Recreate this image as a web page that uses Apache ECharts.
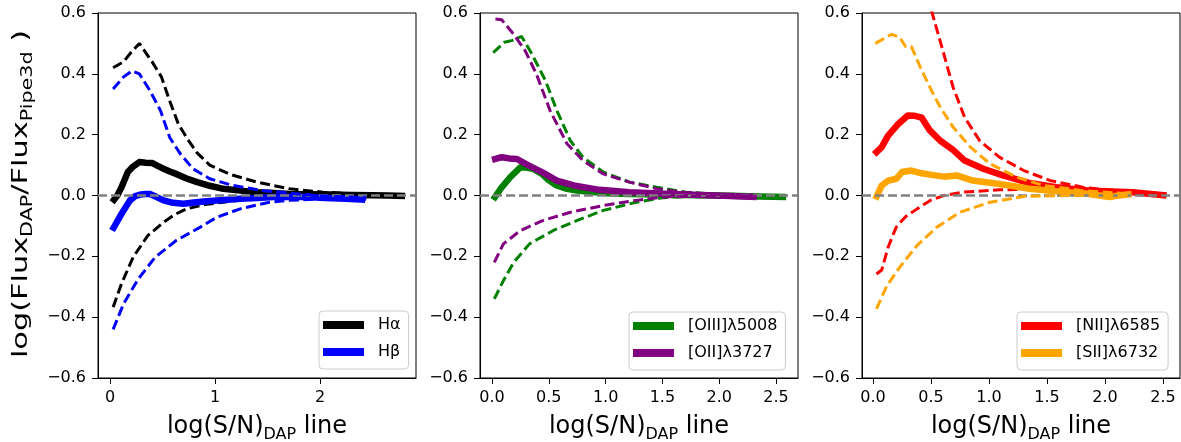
<!DOCTYPE html>
<html>
<head>
<meta charset="utf-8">
<script src="https://cdn.jsdelivr.net/npm/echarts@6/dist/echarts.min.js"></script>
<style>
html,body{margin:0;padding:0;background:#fff;}
#chart{width:1181px;height:442px;}
</style>
</head>
<body>
<div id="chart"></div>
<script>
// ---------- DATA ----------
// Panel 1: H-alpha / H-beta  ([log(S/N), log ratio])
const haSolid = [[0.02,-0.022],[0.07,0.0],[0.11,0.027],[0.17,0.077],[0.22,0.095],[0.28,0.11],[0.34,0.108],[0.40,0.107],[0.45,0.098],[0.51,0.088],[0.57,0.079],[0.63,0.071],[0.73,0.056],[0.83,0.044],[0.95,0.032],[1.08,0.022],[1.24,0.016],[1.40,0.011],[1.56,0.008],[1.71,0.005],[1.90,0.004],[2.10,0.003],[2.30,0.002],[2.50,0.001],[2.65,0.0],[2.81,-0.002]];
const haUpper = [[0.03,0.42],[0.13,0.44],[0.20,0.47],[0.28,0.50],[0.34,0.47],[0.40,0.44],[0.49,0.39],[0.57,0.31],[0.65,0.236],[0.73,0.19],[0.83,0.14],[0.95,0.10],[1.14,0.07],[1.40,0.044],[1.71,0.022],[2.03,0.011],[2.30,0.006],[2.55,0.003],[2.80,0.001]];
const haLower = [[0.03,-0.367],[0.11,-0.29],[0.22,-0.203],[0.36,-0.132],[0.51,-0.088],[0.62,-0.062],[0.73,-0.044],[0.90,-0.03],[1.08,-0.022],[1.30,-0.013],[1.60,-0.008],[2.00,-0.005],[2.40,-0.003],[2.80,-0.002]];
const hbSolid = [[0.02,-0.115],[0.10,-0.066],[0.19,-0.016],[0.24,-0.002],[0.29,0.003],[0.34,0.005],[0.38,0.005],[0.45,-0.006],[0.51,-0.016],[0.60,-0.024],[0.70,-0.027],[0.80,-0.023],[0.92,-0.019],[1.08,-0.015],[1.24,-0.011],[1.40,-0.008],[1.56,-0.005],[1.72,-0.004],[1.87,-0.005],[2.05,-0.008],[2.25,-0.011],[2.43,-0.014]];
const hbUpper = [[0.03,0.35],[0.13,0.39],[0.21,0.41],[0.28,0.40],[0.38,0.345],[0.48,0.28],[0.57,0.19],[0.67,0.137],[0.79,0.088],[0.95,0.055],[1.17,0.033],[1.46,0.016],[1.71,0.008],[1.95,0.0],[2.20,-0.004],[2.44,-0.006]];
const hbLower = [[0.03,-0.44],[0.13,-0.356],[0.27,-0.274],[0.43,-0.203],[0.63,-0.148],[0.86,-0.104],[1.02,-0.071],[1.24,-0.044],[1.52,-0.022],[1.71,-0.016],[1.95,-0.012],[2.20,-0.011],[2.44,-0.012]];

// Panel 2: [OIII]5008 / [OII]3727
const o3Solid = [[0.01,-0.014],[0.085,0.027],[0.16,0.06],[0.25,0.093],[0.30,0.092],[0.36,0.088],[0.44,0.071],[0.50,0.05],[0.57,0.033],[0.66,0.022],[0.75,0.016],[0.98,0.008],[1.20,0.005],[1.50,0.003],[1.80,0.001],[2.10,-0.001],[2.35,-0.003],[2.59,-0.005]];
const o3Upper = [[0.01,0.47],[0.11,0.504],[0.18,0.51],[0.26,0.523],[0.35,0.466],[0.47,0.378],[0.57,0.28],[0.69,0.18],[0.80,0.126],[0.98,0.077],[1.21,0.044],[1.45,0.027],[1.71,0.011],[2.00,0.004],[2.30,0.0],[2.59,-0.003]];
const o3Lower = [[0.02,-0.34],[0.10,-0.28],[0.19,-0.22],[0.33,-0.159],[0.54,-0.115],[0.75,-0.082],[0.98,-0.049],[1.27,-0.022],[1.51,-0.007],[1.80,-0.002],[2.20,0.0],[2.59,-0.003]];
const o2Solid = [[0.0,0.117],[0.085,0.126],[0.15,0.122],[0.22,0.12],[0.32,0.099],[0.44,0.077],[0.57,0.049],[0.72,0.033],[0.92,0.02],[1.21,0.011],[1.57,0.005],[1.90,0.001],[2.10,-0.002],[2.33,-0.005]];
const o2Upper = [[0.03,0.58],[0.085,0.578],[0.19,0.53],[0.29,0.477],[0.39,0.40],[0.51,0.28],[0.66,0.17],[0.80,0.115],[0.98,0.071],[1.21,0.044],[1.45,0.022],[1.70,0.01],[2.00,0.003],[2.33,-0.004]];
const o2Lower = [[0.02,-0.22],[0.10,-0.159],[0.25,-0.115],[0.45,-0.082],[0.69,-0.055],[0.98,-0.033],[1.27,-0.016],[1.51,-0.005],[1.80,-0.002],[2.10,-0.003],[2.33,-0.005]];

// Panel 3: [NII]6585 / [SII]6732
const n2Solid = [[0.01,0.135],[0.075,0.159],[0.13,0.197],[0.22,0.236],[0.30,0.263],[0.36,0.262],[0.42,0.256],[0.49,0.214],[0.58,0.18],[0.69,0.15],[0.79,0.115],[0.95,0.088],[1.12,0.066],[1.35,0.041],[1.58,0.027],[1.87,0.016],[2.24,0.011],[2.53,0.0]];
const n2Upper = [[0.03,1.1],[0.20,0.95],[0.35,0.78],[0.45,0.68],[0.51,0.6],[0.61,0.466],[0.69,0.356],[0.79,0.257],[0.92,0.18],[1.09,0.126],[1.30,0.082],[1.53,0.049],[1.81,0.027],[2.10,0.016],[2.53,0.005]];
const n2Lower = [[0.03,-0.258],[0.075,-0.245],[0.13,-0.17],[0.20,-0.104],[0.28,-0.07],[0.38,-0.044],[0.50,-0.015],[0.61,0.0],[0.78,0.011],[1.09,0.019],[1.38,0.02],[1.67,0.016],[2.00,0.01],[2.30,0.007],[2.53,0.004]];
const s2Solid = [[0.02,-0.013],[0.075,0.033],[0.13,0.049],[0.20,0.055],[0.25,0.077],[0.33,0.082],[0.42,0.073],[0.52,0.067],[0.61,0.062],[0.72,0.066],[0.86,0.049],[1.09,0.038],[1.35,0.022],[1.67,0.011],[1.85,0.006],[2.04,-0.005],[2.12,0.0],[2.23,0.005]];
const s2Upper = [[0.02,0.50],[0.09,0.515],[0.16,0.53],[0.23,0.52],[0.28,0.49],[0.33,0.49],[0.41,0.42],[0.49,0.356],[0.58,0.29],[0.69,0.225],[0.84,0.159],[1.01,0.104],[1.24,0.06],[1.47,0.033],[1.81,0.016],[2.22,0.005]];
const s2Lower = [[0.03,-0.373],[0.12,-0.296],[0.23,-0.236],[0.38,-0.164],[0.55,-0.104],[0.75,-0.055],[1.01,-0.022],[1.30,-0.003],[1.67,0.0],[2.00,0.0],[2.22,0.0]];

const legendNames = [['Hα','Hβ'],['[OIII]λ5008','[OII]λ3727'],['[NII]λ6585','[SII]λ6732']];
const xTicks1 = [0,1,2];
const xTicks23 = [0,0.5,1.0,1.5,2.0,2.5];
const yTicks = [-0.6,-0.4,-0.2,0.0,0.2,0.4,0.6];

// ---------- CHART ----------
const FONT = 'DejaVu Sans';
const chart = echarts.init(document.getElementById('chart'), null, {renderer:'canvas'});

const grids = [
  {left:98, top:13, width:318, height:365},
  {left:480, top:13, width:318, height:365},
  {left:862, top:13, width:318, height:365}
].map(g => Object.assign(g, {show:true, borderColor:'#000', borderWidth:1, backgroundColor:'transparent', containLabel:false, outerBoundsMode:'none'}));

const xRanges = [[-0.114,2.914],[-0.106,2.694],[-0.095,2.647]];
const richX = {
  m:{fontFamily:FONT, fontSize:24, color:'#000', lineHeight:32},
  s:{fontFamily:FONT, fontSize:16, color:'#000', lineHeight:15, verticalAlign:'bottom'}
};
const richY = {
  m:{fontFamily:FONT, fontSize:22, color:'#000', lineHeight:30},
  s:{fontFamily:FONT, fontSize:15, color:'#000', lineHeight:14, verticalAlign:'bottom'}
};
function minus(s){ return s.replace('-', '\u2212'); }

const xAxes = xRanges.map((r,i) => {
  const ticks = i === 0 ? xTicks1 : xTicks23;
  return {
    type:'value', gridIndex:i, min:r[0], max:r[1],
    name:'{m|log(S/N)}{s|DAP}{m| line}', nameLocation:'middle', nameGap:33,
    nameTextStyle:{rich:richX},
    axisLine:{show:true, onZero:false, lineStyle:{color:'#000', width:1}},
    axisTick:{show:true, length:6, customValues:ticks, lineStyle:{color:'#000'}},
    axisLabel:{show:true, customValues:ticks, margin:12, fontFamily:FONT, fontSize:16, color:'#000',
      formatter: v => i === 0 ? String(Math.round(v)) : minus(Number(v).toFixed(1))},
    splitLine:{show:false}
  };
});
const yAxes = [0,1,2].map(i => ({
  type:'value', gridIndex:i, min:-0.6, max:0.6, interval:0.2,
  axisLine:{show:true, onZero:false, lineStyle:{color:'#000', width:1}},
  axisTick:{show:true, length:6, lineStyle:{color:'#000'}},
  axisLabel:{show:true, margin:12, fontFamily:FONT, fontSize:16, color:'#000',
    formatter: v => { const t = Number(v).toFixed(1); return t === '-0.0' ? '0.0' : minus(t); }},
  splitLine:{show:false}
}));

function solid(name, data, color, idx, z){
  return {type:'line', name:name, data:data, xAxisIndex:idx, yAxisIndex:idx, showSymbol:false, symbol:'none',
    lineStyle:{color:color, width:6.5, cap:'butt', join:'round'}, itemStyle:{color:color}, color:color, z:z, animation:false, silent:true};
}
function dashed(name, data, color, idx, z){
  return {type:'line', name:name, data:data, xAxisIndex:idx, yAxisIndex:idx, showSymbol:false, symbol:'none',
    lineStyle:{color:color, width:3, type:[10,4.5], cap:'butt'}, itemStyle:{color:color}, color:color, z:z, animation:false, silent:true};
}
function zeroLine(idx){
  return {type:'line', name:'zero'+idx, data:[], xAxisIndex:idx, yAxisIndex:idx, z:1, animation:false, silent:true,
    markLine:{silent:true, symbol:['none','none'], label:{show:false}, animation:false,
      lineStyle:{color:'#808080', width:2.5, type:[9,4]}, data:[{yAxis:0}]}};
}

const series = [
  zeroLine(0), zeroLine(1), zeroLine(2),
  solid(legendNames[0][0], haSolid, '#000000', 0, 2),
  dashed('Hα upper', haUpper, '#000000', 0, 3),
  dashed('Hα lower', haLower, '#000000', 0, 3),
  solid(legendNames[0][1], hbSolid, '#0000ff', 0, 4),
  dashed('Hβ upper', hbUpper, '#0000ff', 0, 5),
  dashed('Hβ lower', hbLower, '#0000ff', 0, 5),

  solid(legendNames[1][0], o3Solid, '#008000', 1, 2),
  dashed('OIII upper', o3Upper, '#008000', 1, 3),
  dashed('OIII lower', o3Lower, '#008000', 1, 3),
  solid(legendNames[1][1], o2Solid, '#800080', 1, 4),
  dashed('OII upper', o2Upper, '#800080', 1, 5),
  dashed('OII lower', o2Lower, '#800080', 1, 5),

  solid(legendNames[2][0], n2Solid, '#ff0000', 2, 2),
  dashed('NII upper', n2Upper, '#ff0000', 2, 3),
  dashed('NII lower', n2Lower, '#ff0000', 2, 3),
  solid(legendNames[2][1], s2Solid, '#ffa500', 2, 4),
  dashed('SII upper', s2Upper, '#ffa500', 2, 5),
  dashed('SII lower', s2Lower, '#ffa500', 2, 5)
];

const legendPos = [[319,311],[629,312],[1017,312]];
const legends = legendNames.map((names,i) => ({
  data:names, orient:'vertical', left:legendPos[i][0], top:legendPos[i][1],
  icon:'rect', itemWidth:41, itemHeight:8, itemGap:9,
  padding:[5,8,8,4], backgroundColor:'rgba(255,255,255,0.8)', borderColor:'#cccccc', borderWidth:1, borderRadius:4,
  selectedMode:false,
  textStyle:{fontFamily:FONT, fontSize:16, color:'#000', lineHeight:18, padding:[0,0,0,9]}
}));

chart.setOption({
  backgroundColor:'#fff',
  animation:false,
  textStyle:{fontFamily:FONT},
  grid:grids, xAxis:xAxes, yAxis:yAxes, legend:legends, series:series,
  graphic:[{
    type:'text', x:21, y:194, rotation:Math.PI/2, scaleX:1.38, scaleY:1, silent:true,
    style:{text:'{m|log(Flux}{s|DAP}{m|/Flux}{s|Pipe3d}{m| )}', rich:richY, align:'center', verticalAlign:'middle', fill:'#000', fontFamily:FONT}
  }]
});
</script>
</body>
</html>
